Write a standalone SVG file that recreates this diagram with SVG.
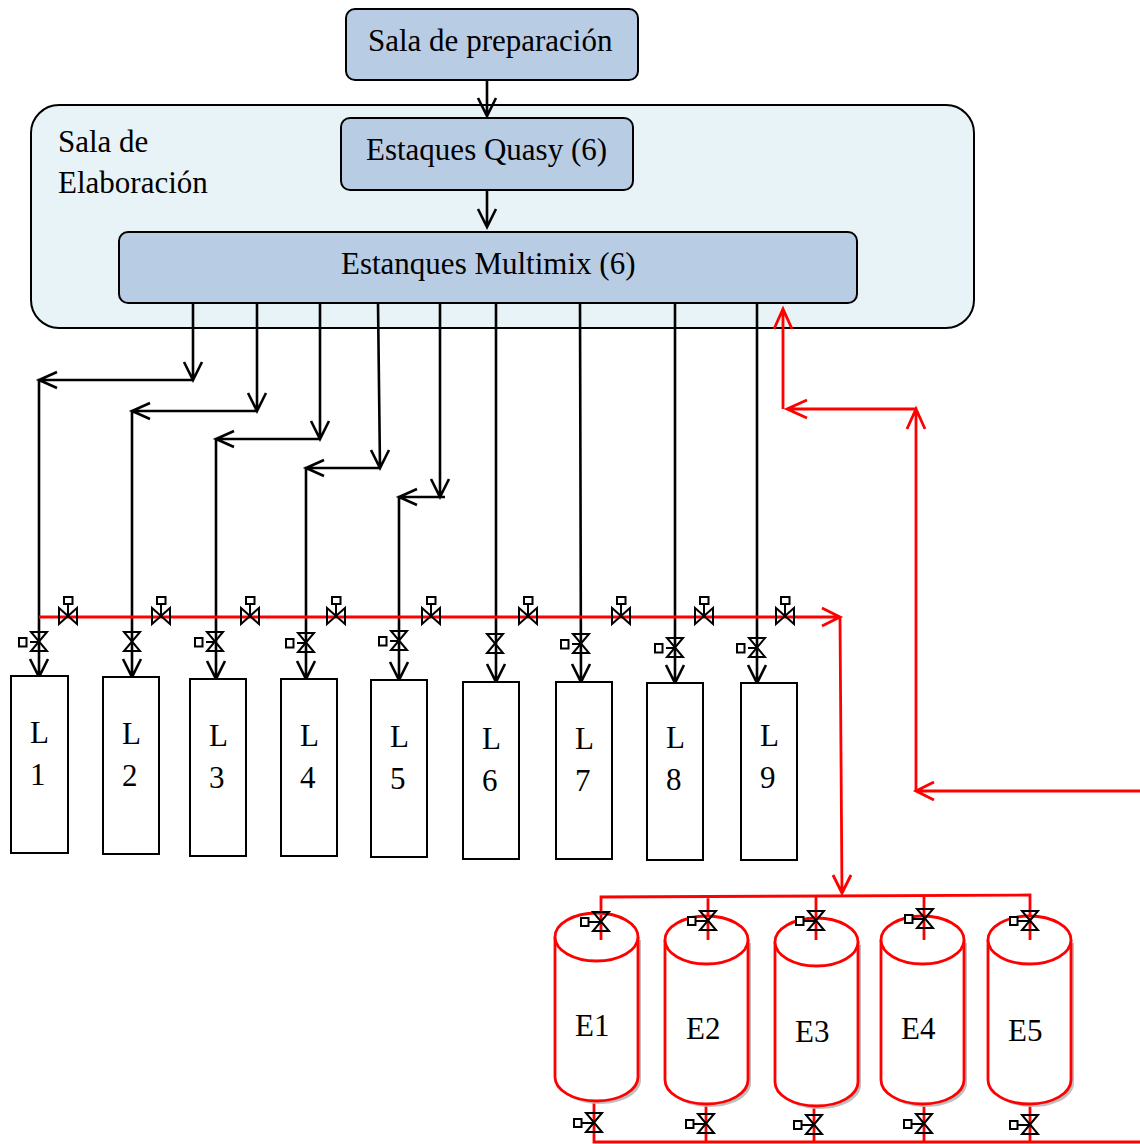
<svg xmlns="http://www.w3.org/2000/svg" xmlns:xlink="http://www.w3.org/1999/xlink" width="1140" height="1144" viewBox="0 0 1140 1144">
<style>
text{font-family:"Liberation Serif","Times New Roman",serif;font-size:31px;fill:#000}
.box{fill:#b8cce4;stroke:#000;stroke-width:2}
.room{fill:#e7f3f7;stroke:#000;stroke-width:2}
.tank{fill:#fff;stroke:#000;stroke-width:2}
.k{fill:none;stroke:#000;stroke-width:2.6}
.r{fill:none;stroke:#f00;stroke-width:2.8}
.cyl{fill:#fff;stroke:#f00;stroke-width:2.8}
.sh{fill:#bfbfbf;stroke:none}
.v{fill:none;stroke:#000;stroke-width:2}
.vf{fill:#fff;stroke:#000;stroke-width:2}
</style>
<defs>
<g id="vh"><path class="v" d="M-9,-9V7L9,-9V7Z"/><path class="v" d="M0,-1V-13"/><rect class="vf" x="-4" y="-20" width="8.500" height="7"/></g>
<g id="vv"><path class="v" d="M-8,-10H8L-8,9H8Z"/><path class="v" d="M0,0H-9"/><rect class="vf" x="-20" y="-4" width="7.500" height="8.500"/></g>
<g id="vn"><path class="v" d="M-8,-10H8L-8,9H8Z"/></g>
<g id="ve"><path class="v" d="M-8,-10H8L-8,9H8Z"/><path class="v" d="M0,0H-13"/><rect class="vf" x="-20" y="-4" width="7.500" height="8"/></g>
<path id="cy" d="M0,24V164C0,177 18,188 41.500,188S83,177 83,164V24"/>
</defs>

<g id="sala-elaboracion"><rect class="room" x="31" y="105" width="943" height="223" rx="28"/>
<text x="58" y="152">Sala de</text><text x="58" y="193">Elaboración</text></g>
<g id="sala-preparacion"><rect class="box" x="346" y="9" width="292" height="71" rx="9"/><text x="368" y="51">Sala de preparación</text></g>
<g id="estaques-quasy"><rect class="box" x="341" y="118" width="292" height="72" rx="9"/><text x="366" y="160">Estaques Quasy (6)</text></g>
<g id="estanques-multimix"><rect class="box" x="119" y="232" width="738" height="71" rx="9"/><text x="341" y="274">Estanques Multimix (6)</text></g>

<g id="connectors">
<g class="k">
<path d="M487,80V116M478,98L487,116L496,98"/>
<path d="M487,190V227M478,209L487,227L496,209"/>
<path d="M193,303V380M184,362L193,380L202,362M193,380H39V677M57,372L39,380L57,388M30,659L39,677L48,659"/>
<path d="M257,303V411M248,393L257,411L266,393M257,411H132V677M150,403L132,411L150,419M123,659L132,677L141,659"/>
<path d="M320,303V439M311,421L320,439L329,421M320,439H216V679M234,431L216,439L234,447M207,661L216,679L225,661"/>
<path d="M378,303L380,468M371,450L380,468L389,450M380,468H306V679M324,460L306,468L324,476M297,661L306,679L315,661"/>
<path d="M440,303V497M431,479L440,497L449,479M445,497H399V680M417,489L399,497L417,505M390,662L399,680L408,662"/>
<path d="M496,303V682M487,664L496,682L505,664"/>
<path d="M580,303L581,682M572,664L581,682L590,664"/>
<path d="M675,303V683M666,665L675,683L684,665"/>
<path d="M757,303V683M748,665L757,683L766,665"/>
</g>
<g class="r">
<path d="M783,409V309M774,329L783,309L792,329"/>
<path d="M916,791V409H787M807,400L787,409L807,418M907,429L916,409L925,429"/>
<path d="M1140,791H916M934,782L916,791L934,800"/>
<path d="M39,617H840M822,608L840,617L822,626"/>
<path d="M840,617L842,893M833,875L842,893L851,875"/>
<path d="M601,915V897L1030,895V915M708,896V916M816,896V918M924,896V916"/>
<path d="M594,1100V1142H1140M706,1103V1142M814,1105V1142M924,1103V1142M1030,1103V1142"/>
</g>
</g>

<g id="valves-red-line">
<use xlink:href="#vh" href="#vh" x="68" y="617"/><use xlink:href="#vh" href="#vh" x="161" y="617"/><use xlink:href="#vh" href="#vh" x="250" y="617"/>
<use xlink:href="#vh" href="#vh" x="336" y="617"/><use xlink:href="#vh" href="#vh" x="431" y="617"/><use xlink:href="#vh" href="#vh" x="528" y="617"/>
<use xlink:href="#vh" href="#vh" x="621" y="617"/><use xlink:href="#vh" href="#vh" x="704" y="617"/><use xlink:href="#vh" href="#vh" x="785" y="617"/>
</g>
<g id="valves-tanks">
<use href="#vv" x="39" y="642"/><use href="#vn" x="132" y="642"/><use href="#vv" x="215" y="642"/>
<use href="#vv" x="306" y="643"/><use href="#vv" x="399" y="641"/><use href="#vn" x="495" y="644"/>
<use href="#vv" x="581" y="644"/><use href="#vv" x="675" y="648"/><use href="#vv" x="757" y="648"/>
</g>

<g id="L1"><rect class="tank" x="11" y="676" width="57" height="177"/><text x="30" y="743">L</text><text x="30" y="785">1</text></g>
<g id="L2"><rect class="tank" x="103" y="677" width="56" height="177"/><text x="122" y="744">L</text><text x="122" y="786">2</text></g>
<g id="L3"><rect class="tank" x="190" y="679" width="56" height="177"/><text x="209" y="746">L</text><text x="209" y="788">3</text></g>
<g id="L4"><rect class="tank" x="281" y="679" width="56" height="177"/><text x="300" y="746">L</text><text x="300" y="788">4</text></g>
<g id="L5"><rect class="tank" x="371" y="680" width="56" height="177"/><text x="390" y="747">L</text><text x="390" y="789">5</text></g>
<g id="L6"><rect class="tank" x="463" y="682" width="56" height="177"/><text x="482" y="749">L</text><text x="482" y="791">6</text></g>
<g id="L7"><rect class="tank" x="556" y="682" width="56" height="177"/><text x="575" y="749">L</text><text x="575" y="791">7</text></g>
<g id="L8"><rect class="tank" x="647" y="683" width="56" height="177"/><text x="666" y="748">L</text><text x="666" y="790">8</text></g>
<g id="L9"><rect class="tank" x="741" y="683" width="56" height="177"/><text x="760" y="746">L</text><text x="760" y="788">9</text></g>

<g id="E1"><g transform="translate(555,913)"><use href="#cy" class="sh" x="3" y="3"/><use href="#cy" class="cyl"/><ellipse class="cyl" cx="41.500" cy="24" rx="41.500" ry="24"/></g><text x="575" y="1036">E1</text></g>
<g id="E2"><g transform="translate(665,916)"><use href="#cy" class="sh" x="3" y="3"/><use href="#cy" class="cyl"/><ellipse class="cyl" cx="41.500" cy="24" rx="41.500" ry="24"/></g><text x="686" y="1039">E2</text></g>
<g id="E3"><g transform="translate(775,918)"><use href="#cy" class="sh" x="3" y="3"/><use href="#cy" class="cyl"/><ellipse class="cyl" cx="41.500" cy="24" rx="41.500" ry="24"/></g><text x="795" y="1042">E3</text></g>
<g id="E4"><g transform="translate(881,916)"><use href="#cy" class="sh" x="3" y="3"/><use href="#cy" class="cyl"/><ellipse class="cyl" cx="41.500" cy="24" rx="41.500" ry="24"/></g><text x="901" y="1039">E4</text></g>
<g id="E5"><g transform="translate(988,916)"><use href="#cy" class="sh" x="3" y="3"/><use href="#cy" class="cyl"/><ellipse class="cyl" cx="41.500" cy="24" rx="41.500" ry="24"/></g><text x="1008" y="1041">E5</text></g>

<g id="tank-inlets" class="r"><path d="M601,915V940M708,918V940M816,920V940M924,918V940M1030,918V940"/></g>
<g id="valves-inlet">
<use href="#ve" x="601" y="922"/><use href="#ve" x="708" y="921"/><use href="#ve" x="816" y="921"/><use href="#ve" x="925" y="919"/><use href="#ve" x="1030" y="921"/>
</g>
<g id="valves-outlet">
<use href="#ve" x="594" y="1123"/><use href="#ve" x="706" y="1124"/><use href="#ve" x="814" y="1125"/><use href="#ve" x="924" y="1124"/><use href="#ve" x="1030" y="1125"/>
</g>
</svg>
